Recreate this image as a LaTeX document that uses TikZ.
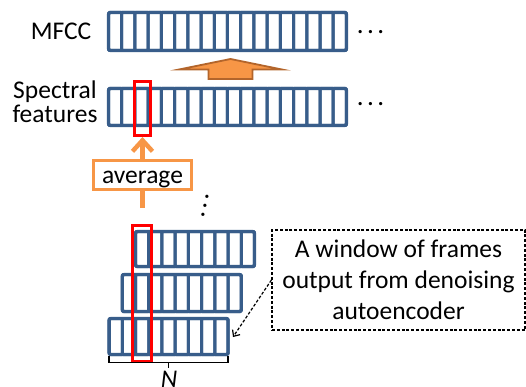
\documentclass[tikz,border=0pt]{standalone}
\usepackage{fontspec}
\setmainfont{Carlito}
\usetikzlibrary{arrows.meta}
\definecolor{cellblue}{HTML}{385D8A}
\definecolor{lorange}{HTML}{F79646}
\definecolor{dorange}{HTML}{B3652B}
\definecolor{myred}{HTML}{FF0000}
\newcommand\cellrow[4]{%
  \foreach \i in {1,...,#4} {\draw[cell] ({#1+(\i-1)*13.22},#2) rectangle ({#1+\i*13.22},#3);}
  \draw[rowframe] (#1,#2) rectangle ({#1+#4*13.22},#3);}
\begin{document}
\begin{tikzpicture}[x=1pt,y=-1pt,
  cell/.style={draw=cellblue,line width=3pt,rounded corners=1pt},
  rowframe/.style={draw=cellblue,line width=3.3pt,rounded corners=2pt},
  redbox/.style={draw=myred,line width=3pt,inner sep=0pt},
  bigfont/.style={font=\fontsize{25.5}{31}\selectfont},
  lbl/.style={bigfont,inner sep=0pt,align=center},
  orangeline/.style={draw=lorange,line width=4.5pt},
  dotsnode/.style={font=\fontsize{27}{27}\selectfont,inner sep=0pt}]
\useasboundingbox (0,0) rectangle (526,387);

% labels
\node[lbl,anchor=base] (mfcc) at (61,40) {MFCC};
\node[lbl,font=\fontsize{25.5}{24.5}\selectfont] (spec) at (55,101.5) {Spectral\\features};

% rows
\cellrow{108.5}{12.5}{50.5}{18}
\cellrow{108.5}{88.5}{125.5}{18}
\cellrow{135.5}{231.5}{266.5}{9}
\cellrow{122.3}{274.5}{311.5}{9}
\cellrow{109.1}{318.5}{354.5}{9}

% continuation dots
\node[dotsnode] (d1) at (370.5,32.5) {.\hspace{3.5pt}.\hspace{3.5pt}.};
\node[dotsnode] (d2) at (370.5,104.5) {.\hspace{3.5pt}.\hspace{3.5pt}.};
\node[font=\fontsize{27}{9.5}\selectfont,inner sep=0pt,align=center,rotate=-12] (vd) at (205,206) {.\\.\\.};

% big block arrow
\draw[draw=dorange,fill=lorange,line width=1.8pt,line join=miter]
  (208.5,79) -- (208.5,69.5) -- (179,69.5) -- (230.5,59) -- (282,69.5) -- (252.5,69.5) -- (252.5,79) -- cycle;

% red boxes
\node[redbox,minimum width=16pt,minimum height=54pt] (redS) at (142.5,108.5) {};
\node[redbox,minimum width=19pt,minimum height=136pt] (redW) at (142,293.5) {};

% average
\node[draw=lorange,line width=3pt,fill=white,minimum width=98pt,minimum height=29pt,
      inner sep=0pt,bigfont,text height=20pt,text depth=3.5pt] (avg) at (142.5,175) {average};
\coordinate (stub) at (142.5,208);
\draw[orangeline] (stub) -- (avg.south);
\draw[orangeline,-{Straight Barb[length=11pt,width=20pt]}] (avg.north) -- (redS.south);

% brace and N
\coordinate (bl) at (109,356);
\coordinate (br) at (228,356);
\coordinate (bm) at (168.5,362.5);
\draw[black,line width=1.8pt] (bl) |- (bm) -| (br);
\draw[black,line width=1.8pt] (bm) -- ++(0,5.5) coordinate (bt);
\node[bigfont,inner sep=0pt,anchor=north] (N) at (169,371) {\itshape N};

% note box
\node[draw=black,dashed,dash pattern=on 3pt off 1.8pt,line width=1.2pt,minimum width=253pt,minimum height=100pt,
      inner sep=0pt,align=center,bigfont] (note) at (398.5,280)
  {A window of frames\\output from denoising\\autoencoder};
\coordinate (tip) at (233,337);
\draw[black,line width=1.2pt,dash pattern=on 3pt off 1.8pt,-{Straight Barb[length=5pt,width=9pt]}] (note.west) -- (tip);
\end{tikzpicture}
\end{document}
